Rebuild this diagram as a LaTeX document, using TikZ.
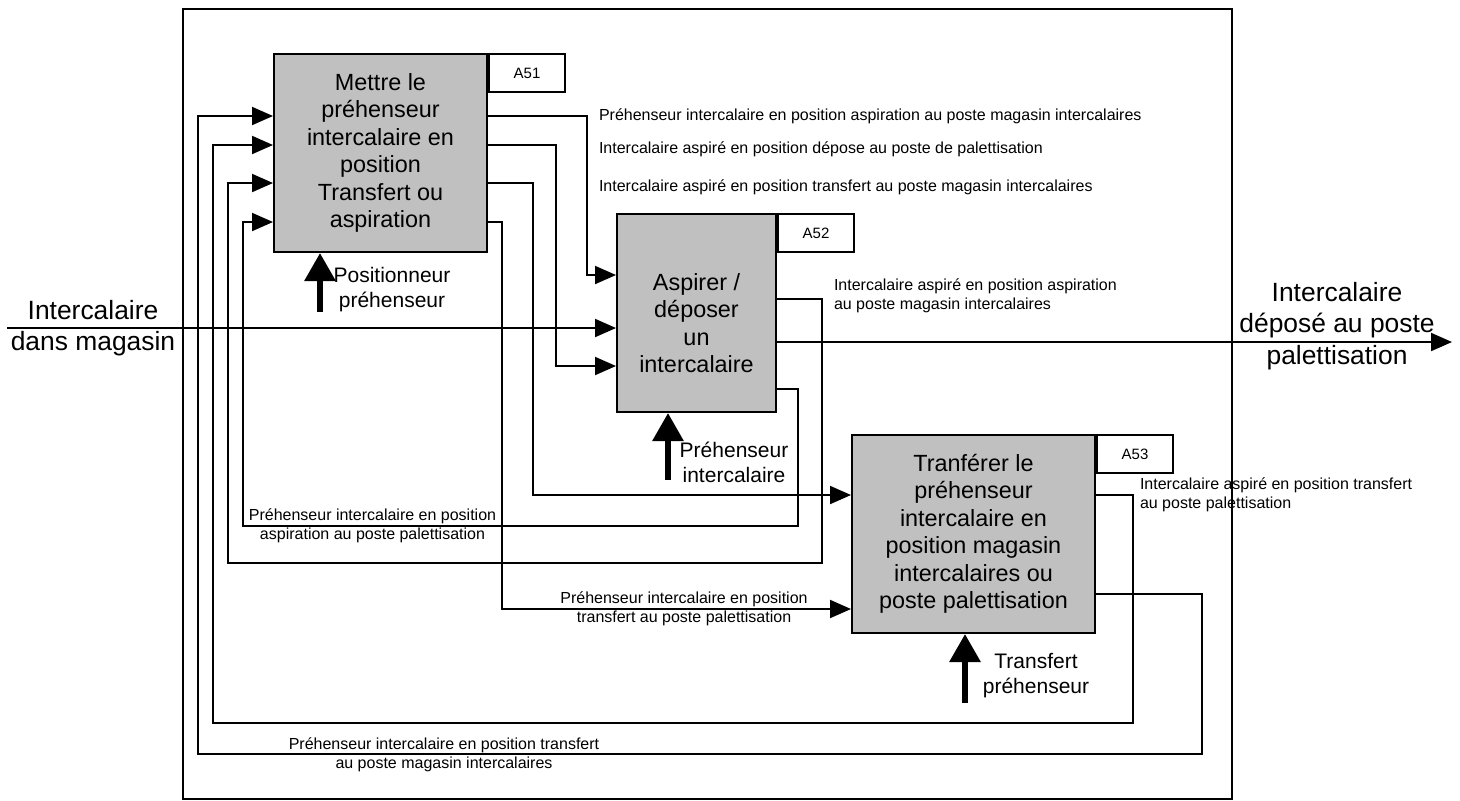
\documentclass[tikz,border=0pt]{standalone}
\usepackage{fontspec}
\setmainfont{Liberation Sans}
\usetikzlibrary{arrows.meta}
\definecolor{boxgray}{RGB}{192,192,192}
\begin{document}
\begin{tikzpicture}[x=0.5pt, y=-0.5pt, line width=1pt,
        proc/.style = {draw, fill=boxgray, align=center, minimum height=99pt, inner sep=2pt,
                       font=\fontsize{11.7}{13.75}\selectfont},
        tag/.style = {draw, fill=white, anchor=north west, minimum width=38pt, minimum height=19pt,
                      inner sep=0pt, font=\fontsize{7.5}{9}\selectfont},
        flow/.style = {-{Triangle[length=10.5pt, width=9pt]}},
        mech/.style = {line width=3pt, -{Triangle[length=14pt, width=15pt]}},
        note/.style = {inner sep=0pt, font=\fontsize{8}{9.5}\selectfont},
        ctl/.style = {inner sep=0pt, align=center, font=\fontsize{10.5}{12.5}\selectfont},
        io/.style = {inner sep=0pt, align=center, font=\fontsize{13.2}{15.8}\selectfont}]
    \useasboundingbox (0,0) rectangle (1460,800);
    \draw (183,9) rectangle (1232,799);

    % activities
    \node[proc, minimum width=106.5pt] (a51) at (380.5,153)
        {Mettre le\\préhenseur\\intercalaire en\\position\\Transfert ou\\aspiration};
    \node[proc, minimum width=79.5pt] (a52) at (696.5,313) {};
    \node[inner sep=0pt, align=center, font=\fontsize{11.7}{13.75}\selectfont] (a52txt)
        at ([yshift=-5pt]a52.center) {Aspirer /\\déposer\\un\\intercalaire};
    \node[proc, minimum width=121.5pt] (a53) at (973.5,534)
        {Tranférer le\\préhenseur\\intercalaire en\\position magasin\\intercalaires ou\\poste palettisation};
    \node[tag] (t51) at (a51.north east) {A51};
    \node[tag] (t52) at (a52.north east) {A52};
    \node[tag] (t53) at (a53.north east) {A53};

    % A51 -> A52 / A53
    \draw[flow] (a51.east |- 0,116) -| (587,275) -- (a52.west |- 0,275);
    \draw[flow] (a51.east |- 0,145) -| (556,366) -- (a52.west |- 0,366);
    \draw[flow] (a51.east |- 0,183) -| (533,495) -- (a53.west |- 0,495);
    \draw[flow] (a51.east |- 0,222) -| (502,609) -- (a53.west |- 0,609);

    % loops back to A51
    \draw[flow] (a52.east |- 0,299) -| (822,563) -| (228,183) -- (a51.west |- 0,183);
    \draw[flow] (a52.east |- 0,389) -| (798,526) -| (243,222) -- (a51.west |- 0,222);
    \draw[flow] (a53.east |- 0,495) -| (1133,723) -| (213,145) -- (a51.west |- 0,145);
    \draw[flow] (a53.east |- 0,594) -| (1202,754) -| (198,116) -- (a51.west |- 0,116);

    % main input / output
    \coordinate (src) at (7,328);
    \coordinate (dst) at (1452,342);
    \draw[flow] (src) -- (a52.west |- src);
    \draw[flow] (a52.east |- dst) -- (dst);
    \node[io] (lsrc) at (93,328) {Intercalaire\\dans magasin};
    \node[io] (ldst) at (1337,326) {Intercalaire\\déposé au poste\\palettisation};

    % mechanisms
    \coordinate (m51) at (320,312);
    \coordinate (m52) at (668,480);
    \coordinate (m53) at (965,703);
    \draw[mech] (m51) -- (a51.south -| m51);
    \draw[mech] (m52) -- (a52.south -| m52);
    \draw[mech] (m53) -- (a53.south -| m53);
    \node[ctl] (l51) at (392,290) {Positionneur\\préhenseur};
    \node[ctl] (l52) at (734,462) {Préhenseur\\intercalaire};
    \node[ctl] (l53) at (1036,676) {Transfert\\préhenseur};

    % flow labels
    \node[note, anchor=west] (n1) at (598,116) {Préhenseur intercalaire en position aspiration au poste magasin intercalaires};
    \node[note, anchor=west] (n2) at (598,149) {Intercalaire aspiré en position dépose au poste de palettisation};
    \node[note, anchor=west] (n3) at (598,187) {Intercalaire aspiré en position transfert au poste magasin intercalaires};
    \node[note, anchor=west, align=left] (n4) at (833,296) {Intercalaire aspiré en position aspiration\\au poste magasin intercalaires};
    \node[note, anchor=west, align=left] (n5) at (1139,495) {Intercalaire aspiré en position transfert\\au poste palettisation};
    \node[note, align=center] (n6) at (372.5,526) {Préhenseur intercalaire en position\\aspiration au poste palettisation};
    \node[note, align=center] (n7) at (684,609) {Préhenseur intercalaire en position\\transfert au poste palettisation};
    \node[note, align=center] (n8) at (444,755) {Préhenseur intercalaire en position transfert\\au poste magasin intercalaires};
\end{tikzpicture}
\end{document}
